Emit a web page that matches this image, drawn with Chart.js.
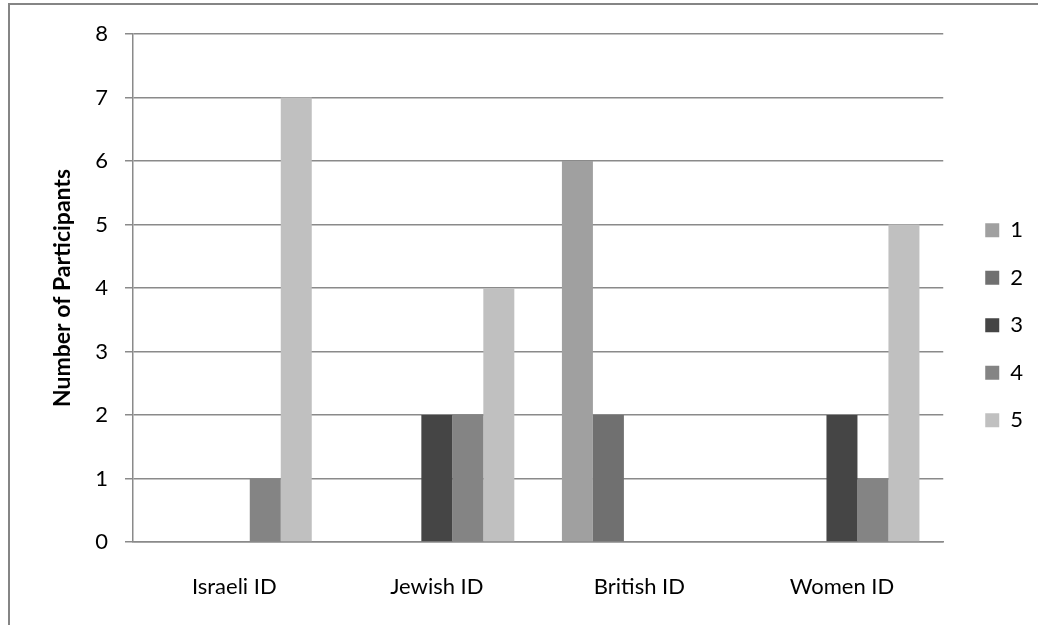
<!DOCTYPE html>
<html>
<head>
<meta charset="utf-8">
<script src="https://cdn.jsdelivr.net/npm/chart.js@4/dist/chart.umd.min.js"></script>
<style>
  html, body { margin: 0; padding: 0; background: #fff; }
  #wrap { position: relative; width: 1038px; height: 625px; overflow: hidden; }
  #frame { position: absolute; left: 8px; top: 3px; width: 1100px; height: 700px;
           border-top: 2px solid #858585; border-left: 2px solid #858585; }
  #chart { position: absolute; left: 0; top: 0; }
</style>
</head>
<body>
<div id="wrap">
  <div id="frame"></div>
  <canvas id="chart" width="1038" height="625"></canvas>
</div>
<script>
var categories = ["Israeli ID", "Jewish ID", "British ID", "Women ID"];
var seriesNames = ["1", "2", "3", "4", "5"];
var series1 = [0, 0, 6, 0];
var series2 = [0, 0, 2, 0];
var series3 = [0, 2, 0, 2];
var series4 = [1, 2, 0, 1];
var series5 = [7, 4, 0, 5];
var yTicks = [0, 1, 2, 3, 4, 5, 6, 7, 8];

var colors = ["#a0a0a0", "#707070", "#454545", "#848484", "#c0c0c0"];
var allSeries = [series1, series2, series3, series4, series5];

var fontFamily = "Lato, 'Open Sans', sans-serif";
var axisColor = "#8a8a8a";

var datasets = allSeries.map(function(values, i) {
    return {
        label: seriesNames[i],
        data: values,
        backgroundColor: colors[i],
        borderWidth: 0,
        categoryPercentage: 0.765,
        barPercentage: 1.0
    };
});

var options = {
    responsive: false,
    animation: false,
    layout: {
        padding: { left: 45, top: 34, right: 5, bottom: 25 }
    },
    plugins: {
        tooltip: { enabled: false },
        legend: {
            position: 'right',
            labels: {
                color: '#000',
                boxWidth: 14,
                boxHeight: 14,
                usePointStyle: true,
                pointStyle: 'rect',
                pointStyleWidth: 14,
                padding: 42,
                font: { family: fontFamily, size: 22, lineHeight: '5.5px' },
                // array text lets the row pitch follow the font line height
                generateLabels: function(chart) {
                    return chart.data.datasets.map(function(ds, i) {
                        return {
                            text: [ds.label],
                            fillStyle: ds.backgroundColor,
                            strokeStyle: ds.backgroundColor,
                            lineWidth: 0,
                            pointStyle: 'rect',
                            hidden: false,
                            datasetIndex: i
                        };
                    });
                }
            }
        }
    },
    scales: {
        x: {
            grid: { display: false },
            border: { display: true, color: axisColor, width: 1.5 },
            ticks: {
                color: '#000',
                padding: 24,
                font: { family: fontFamily, size: 22 }
            },
            afterFit: function(scale) { scale.height = 58; }
        },
        y: {
            min: 0,
            max: 8,
            afterBuildTicks: function(scale) {
                scale.ticks = yTicks.map(function(v) { return { value: v }; });
            },
            grid: { color: axisColor, lineWidth: 1.5, tickLength: 8 },
            border: { display: true, color: axisColor, width: 1.5 },
            ticks: {
                color: '#000',
                padding: 17,
                font: { family: fontFamily, size: 22 }
            },
            title: {
                display: true,
                text: 'Number of Participants',
                color: '#000',
                font: { family: fontFamily, size: 23, weight: 'bold' }
            },
            afterFit: function(scale) { scale.width = 88; }
        }
    }
};

var chart = new Chart(document.getElementById('chart'), {
    type: 'bar',
    data: { labels: categories, datasets: datasets },
    options: options
});
</script>
</body>
</html>
